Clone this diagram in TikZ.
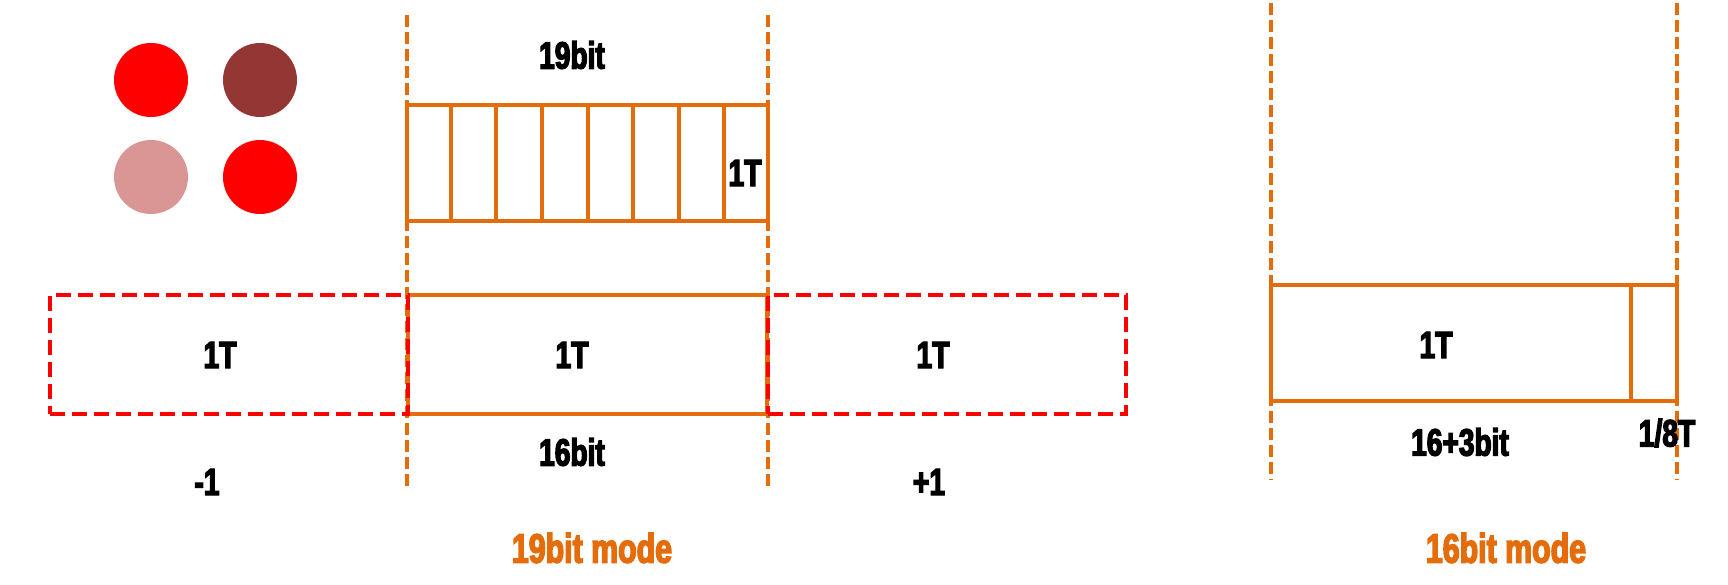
\documentclass[tikz,border=0pt]{standalone}
\usepackage{fontspec}
\usetikzlibrary{calc}
\newfontfamily\imp{Liberation Sans Bold}[FakeStretch=0.74,FakeBold=3.5]
\definecolor{org}{RGB}{228,108,10}
\definecolor{dred}{RGB}{148,54,52}
\definecolor{pinkc}{RGB}{217,150,148}
\begin{document}
\begin{tikzpicture}[x=0.5pt,y=-0.5pt,
  lbl/.style={font=\imp\fontsize{19}{19}\selectfont, text=black, inner sep=0pt},
  modelbl/.style={font=\imp\fontsize{20.5}{20.5}\selectfont, text=org, inner sep=0pt},
  obox/.style={draw=org, line width=2pt, rectangle, inner sep=0pt},
  rbox/.style={draw=red, line width=2pt, dash pattern=on 7.5pt off 3.5pt, rectangle, inner sep=0pt},
  guide/.style={draw=org, line width=1.8pt, dash pattern=on 6pt off 2.5pt},
  dot/.style={circle, minimum size=37pt, inner sep=0pt, draw=none}]
\useasboundingbox (0,0) rectangle (1728,584);
% dots
\node[dot, fill=red] (c1) at (151,80) {};
\node[dot, fill=dred] (c2) at (260,80) {};
\node[dot, fill=pinkc] (c3) at (151,177) {};
\node[dot, fill=red] (c4) at (260,177) {};
% guide coordinates
\coordinate (g1t) at (407,15); \coordinate (g1b) at (407,490);
\coordinate (g2t) at (768,15); \coordinate (g2b) at (768,490);
\coordinate (g3t) at (1271,3); \coordinate (g3b) at (1271,480);
\coordinate (g4t) at (1677,3); \coordinate (g4b) at (1677,480);
\draw[guide] (g1t) -- (g1b);
\draw[guide] (g2t) -- (g2b);
\draw[guide] (g3t) -- (g3b);
\draw[guide] (g4t) -- (g4b);
% top cells box
\node[obox, minimum width=180.5pt, minimum height=58pt] (cells) at (587.5,163) {};
\foreach \k in {1,...,7} {
  \draw[org, line width=2pt] ($(cells.north west)!\k/8!(cells.north east)$) -- ($(cells.south west)!\k/8!(cells.south east)$);
}
% middle box
\node[obox, minimum width=179.5pt, minimum height=59.5pt] (mid) at (587.5,354.5) {};
\node[rbox, minimum width=179pt, minimum height=59.5pt] (left) at (229,354.5) {};
\node[rbox, minimum width=179pt, minimum height=59.5pt] (right) at (947,354.5) {};
% 16bit box
\node[obox, minimum width=203pt, minimum height=58pt] (sbox) at (1474,343) {};
\coordinate (dvt) at (1631,285); \coordinate (dvb) at (1631,401);
\draw[org, line width=2pt] (dvt) -- (dvb);
% labels
\node[lbl] (t19) at (572,55) {19bit};
\node[lbl] (tc) at (745,173) {1T};
\node[lbl] (tl) at (220,355) {1T};
\node[lbl] (tm) at (572,355) {1T};
\node[lbl] (tr) at (933,355) {1T};
\node[lbl] (t16) at (572,452) {16bit};
\node[lbl] (tminus) at (207,482) {-1};
\node[lbl] (tplus) at (929,482) {+1};
\node[modelbl] (m19) at (592,548) {19bit mode};
\node[modelbl] (m16) at (1506,548) {16bit mode};
\node[lbl] (ts) at (1436,345) {1T};
\node[lbl] (ts2) at (1460,442) {16+3bit};
\node[lbl] (ts3) at (1667,433) {1/8T};
\end{tikzpicture}
\end{document}
